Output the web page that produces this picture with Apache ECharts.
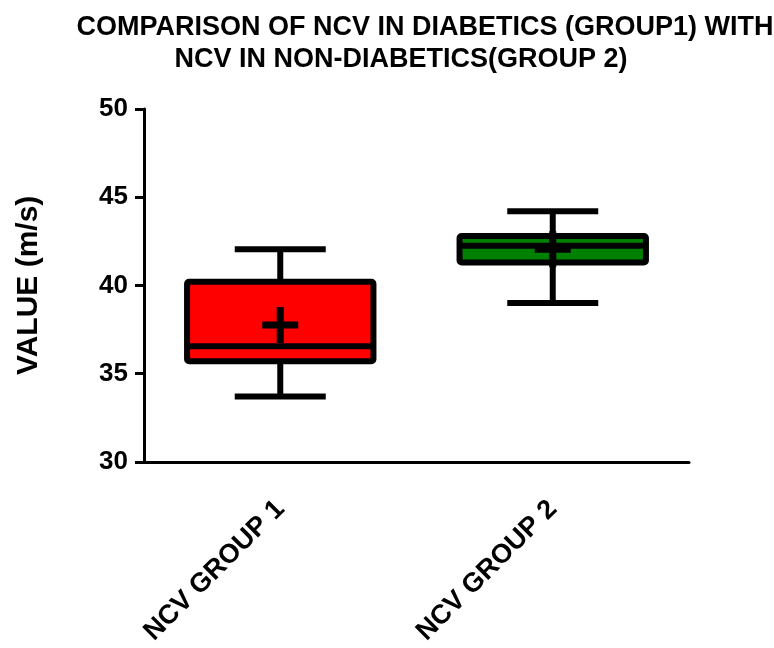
<!DOCTYPE html>
<html>
<head>
<meta charset="utf-8">
<script src="https://cdn.jsdelivr.net/npm/echarts@6/dist/echarts.min.js"></script>
<style>
html,body{margin:0;padding:0;background:#fff;}
#chart{width:774px;height:648px;}
</style>
</head>
<body>
<div id="chart"></div>
<script>
var categories = ['NCV GROUP 1', 'NCV GROUP 2'];
var minVals = [33.7, 39.0];
var q1Vals = [35.7, 41.3];
var medianVals = [36.55, 42.25];
var q3Vals = [40.2, 42.8];
var maxVals = [42.05, 44.2];
var meanVals = [37.75, 42.05];
var boxColors = ['#FF0000', '#008000'];
var yTicks = [30, 35, 40, 45, 50];
var titleLine1 = 'COMPARISON OF NCV IN DIABETICS (GROUP1) WITH';
var titleLine2 = 'NCV IN NON-DIABETICS(GROUP 2)';
var yName = 'VALUE (m/s)';

var FONT = '"Liberation Sans", Arial, sans-serif';

var data = categories.map(function (c, i) {
  return [i, minVals[i], q1Vals[i], medianVals[i], q3Vals[i], maxVals[i], meanVals[i]];
});

function renderItem(params, api) {
  var idx = api.value(0);
  var band = api.size([1, 0])[0];
  var pMin = api.coord([idx, api.value(1)]);
  var pQ1 = api.coord([idx, api.value(2)]);
  var pMed = api.coord([idx, api.value(3)]);
  var pQ3 = api.coord([idx, api.value(4)]);
  var pMax = api.coord([idx, api.value(5)]);
  var pMean = api.coord([idx, api.value(6)]);
  var cx = pMin[0];
  var halfBox = band * 0.342;
  var halfCap = band * 0.167;
  var halfPlus = band * 0.066;
  var lw = 6;
  var lineStyle = { stroke: '#000', lineWidth: lw, fill: null };
  return {
    type: 'group',
    children: [
      { type: 'line', shape: { x1: cx, y1: pQ3[1], x2: cx, y2: pMax[1] }, style: lineStyle },
      { type: 'line', shape: { x1: cx, y1: pQ1[1], x2: cx, y2: pMin[1] }, style: lineStyle },
      { type: 'line', shape: { x1: cx - halfCap, y1: pMax[1], x2: cx + halfCap, y2: pMax[1] }, style: lineStyle },
      { type: 'line', shape: { x1: cx - halfCap, y1: pMin[1], x2: cx + halfCap, y2: pMin[1] }, style: lineStyle },
      { type: 'rect', shape: { x: cx - halfBox, y: pQ3[1], width: halfBox * 2, height: pQ1[1] - pQ3[1], r: 2 },
        style: { fill: boxColors[idx], stroke: '#000', lineWidth: lw, lineJoin: 'round' } },
      { type: 'line', shape: { x1: cx - halfBox, y1: pMed[1], x2: cx + halfBox, y2: pMed[1] }, style: lineStyle },
      { type: 'line', shape: { x1: cx - halfPlus, y1: pMean[1], x2: cx + halfPlus, y2: pMean[1] }, style: { stroke: '#000', lineWidth: 7 } },
      { type: 'line', shape: { x1: cx, y1: pMean[1] - halfPlus, x2: cx, y2: pMean[1] + halfPlus }, style: { stroke: '#000', lineWidth: 7 } }
    ]
  };
}

var chart = echarts.init(document.getElementById('chart'), null, { renderer: 'canvas' });
chart.setOption({
  animation: false,
  backgroundColor: '#fff',
  title: [
    { text: titleLine1, left: 420, top: 9, textAlign: 'center',
      textStyle: { fontFamily: FONT, fontWeight: 'bold', fontSize: 27, color: '#000' } },
    { text: titleLine2, left: 396, top: 41, textAlign: 'center',
      textStyle: { fontFamily: FONT, fontWeight: 'bold', fontSize: 27, color: '#000' } }
  ],
  grid: { left: 144, right: 85, top: 109, bottom: 176, containLabel: false },
  xAxis: {
    type: 'category',
    data: categories,
    boundaryGap: true,
    axisLine: { lineStyle: { color: '#000', width: 3 } },
    axisTick: { alignWithLabel: true, length: 10, lineStyle: { color: '#000', width: 3 } },
    axisLabel: { rotate: 45, margin: 43, fontFamily: FONT, fontWeight: 'bold', fontSize: 27, color: '#000', interval: 0 },
    splitLine: { show: false }
  },
  yAxis: {
    type: 'value',
    min: yTicks[0],
    max: yTicks[yTicks.length - 1],
    interval: 5,
    name: yName,
    nameLocation: 'middle',
    nameGap: 100,
    nameRotate: 90,
    nameTextStyle: { fontFamily: FONT, fontWeight: 'bold', fontSize: 30, color: '#000' },
    axisLine: { show: true, lineStyle: { color: '#000', width: 3 } },
    axisTick: { show: true, length: 9, lineStyle: { color: '#000', width: 3 } },
    axisLabel: { margin: 16, fontFamily: FONT, fontWeight: 'bold', fontSize: 26, color: '#000' },
    splitLine: { show: false }
  },
  series: [{
    type: 'custom',
    renderItem: renderItem,
    encode: { x: 0, y: [1, 2, 3, 4, 5, 6] },
    data: data,
    clip: false
  }]
});
</script>
</body>
</html>
